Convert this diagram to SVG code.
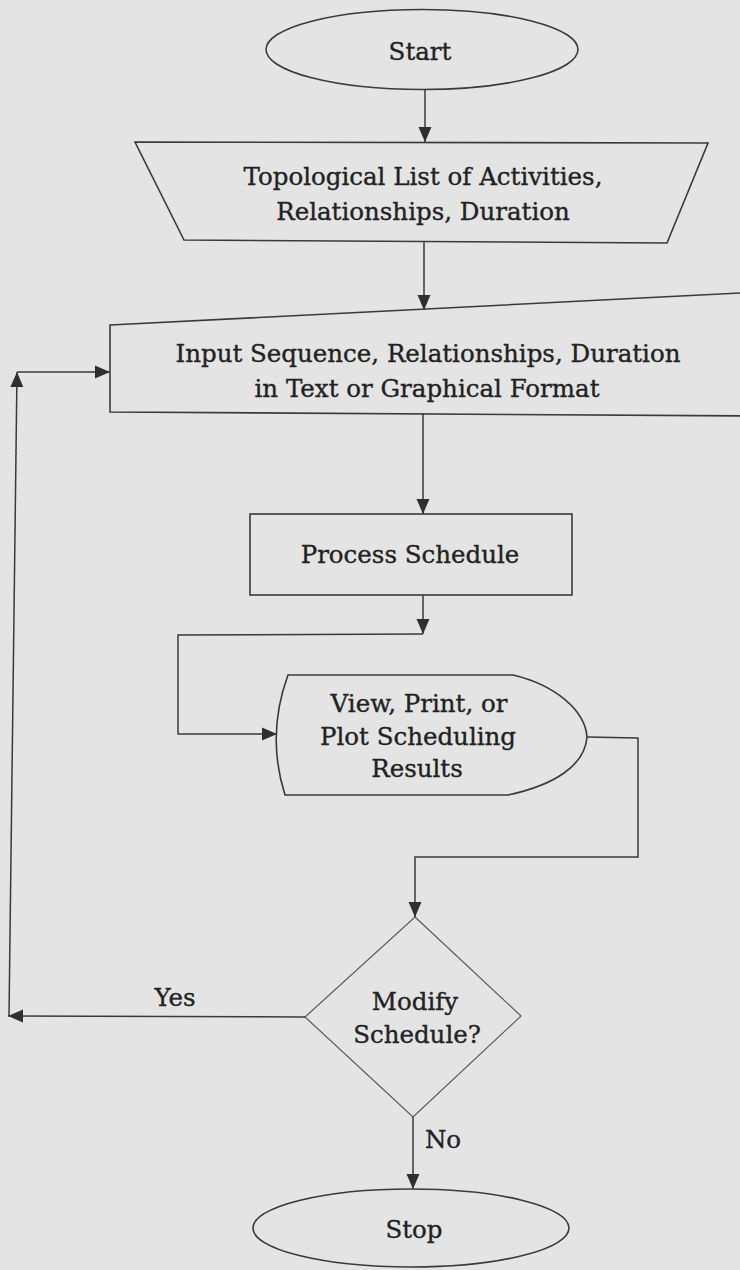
<svg xmlns="http://www.w3.org/2000/svg" width="740" height="1270" viewBox="0 0 740 1270">
  <defs>
    <marker id="arr" markerUnits="userSpaceOnUse" markerWidth="16" markerHeight="16" viewBox="0 0 16 16" refX="15" refY="8" orient="auto">
      <path d="M0,1.5 L15,8 L0,14.5 Z" fill="#2f2f2f"/>
    </marker>
    <style>
      .shape { fill: #e4e4e4; stroke: #3a3a3a; stroke-width: 1.6; }
      .thin { fill: #e4e4e4; stroke: #555; stroke-width: 1.1; }
      .conn { fill: none; stroke: #3a3a3a; stroke-width: 1.5; }
      .lbl { font-family: "DejaVu Serif", "Liberation Serif", serif; font-size: 24.5px; fill: #222; stroke: #222; stroke-width: 0.35; text-anchor: middle; }
    </style>
  </defs>
  <rect x="0" y="0" width="740" height="1270" fill="#e4e4e4"/>

  <g id="start">
    <ellipse class="shape" cx="422" cy="49.5" rx="156" ry="40"/>
    <text class="lbl" x="420" y="60">Start</text>
  </g>

  <g id="topological-list">
    <polygon class="shape" points="135,142 708,143 667,243 184,240"/>
    <text class="lbl" x="423" y="185">Topological List of Activities,</text>
    <text class="lbl" x="423" y="220">Relationships, Duration</text>
  </g>

  <g id="input-sequence">
    <polygon class="shape" points="110,325 760,292 760,416 110,412"/>
    <text class="lbl" x="428" y="362">Input Sequence, Relationships, Duration</text>
    <text class="lbl" x="427" y="397">in Text or Graphical Format</text>
  </g>

  <g id="process-schedule">
    <rect class="shape" x="250" y="514" width="322" height="81"/>
    <text class="lbl" x="410" y="563">Process Schedule</text>
  </g>

  <g id="view-results">
    <path class="shape" d="M288,675 L513,675 C555,685 585,710 587,737 C585,765 555,785 508,795 L285,795 Q266,735 288,675 Z"/>
    <text class="lbl" x="419" y="712">View, Print, or</text>
    <text class="lbl" x="418" y="745">Plot Scheduling</text>
    <text class="lbl" x="417" y="777">Results</text>
  </g>

  <g id="modify-schedule">
    <polygon class="thin" points="415,917 521,1016 413,1117 305,1017"/>
    <text class="lbl" x="415" y="1010">Modify</text>
    <text class="lbl" x="417" y="1043">Schedule?</text>
  </g>

  <g id="stop">
    <ellipse class="shape" cx="411" cy="1228" rx="158" ry="39"/>
    <text class="lbl" x="414" y="1238">Stop</text>
  </g>

  <g id="connectors">
    <path class="conn" d="M425,90 L425,142" marker-end="url(#arr)"/>
    <path class="conn" d="M424,242 L424,310" marker-end="url(#arr)"/>
    <path class="conn" d="M423,413 L423,514" marker-end="url(#arr)"/>
    <path class="conn" d="M423,595 L423,634" marker-end="url(#arr)"/>
    <path class="conn" d="M423,634 L178,635 L178,734 L277,734" marker-end="url(#arr)"/>
    <path class="conn" d="M587,737 L638,738 L638,857 L415,857 L415,917" marker-end="url(#arr)"/>
    <path class="conn" d="M305,1017 L8,1016" marker-end="url(#arr)"/>
    <path class="conn" d="M9,1016 L17,372" marker-end="url(#arr)"/>
    <path class="conn" d="M17,372 L110,372" marker-end="url(#arr)"/>
    <path class="conn" d="M413,1117 L413,1189" marker-end="url(#arr)"/>
    <text class="lbl" x="175" y="1006">Yes</text>
    <text class="lbl" x="443" y="1148">No</text>
  </g>
</svg>
